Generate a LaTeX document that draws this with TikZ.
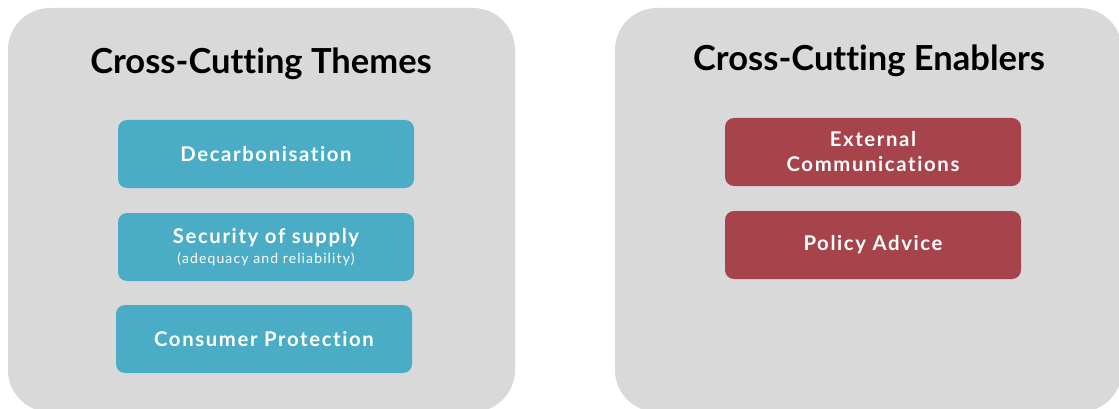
\documentclass[tikz,border=0pt]{standalone}
\usepackage{fontspec}
\setmainfont{Lato}[RawFeature=-liga]
\newfontfamily\boxfont[LetterSpace=8,RawFeature=-liga]{Lato}
\definecolor{panelgrey}{HTML}{D9D9D9}
\definecolor{teal}{HTML}{4BACC6}
\definecolor{wine}{HTML}{A6434B}
\begin{document}
\begin{tikzpicture}[x=1pt,y=-1pt,
  panel/.style={fill=panelgrey, draw=none, rounded corners=42pt},
  title/.style={font=\fontsize{34.5}{38}\selectfont\bfseries, text=black},
  tbox/.style={fill=teal, draw=none, rounded corners=9pt, minimum width=296pt, minimum height=68pt, text=white, align=center, inner sep=0pt, font=\boxfont\fontsize{20.3}{25}\selectfont\bfseries},
  rbox/.style={tbox, fill=wine}]
\useasboundingbox (0,0) rectangle (1119,409);
\fill[panelgrey, rounded corners=42pt] (8,8) rectangle (515,412);
\fill[panelgrey, rounded corners=42pt] (615,8) rectangle (1122,412);
\node[title] (t1) at (261,64) {Cross-Cutting Themes};
\node[title] (t2) at (869,61) {Cross-Cutting Enablers};
\node[tbox] (dec) at (266,154) {Decarbonisation};
\node[tbox] (sec) at (266,247) {Security of supply\\[-5pt]{\fontsize{14}{16}\selectfont\mdseries (adequacy and reliability)}};
\node[tbox] (con) at (264,339) {Consumer Protection};
\node[rbox] (ext) at (873,152) {External\\Communications};
\node[rbox] (pol) at (873,245) {Policy Advice};
\end{tikzpicture}
\end{document}
